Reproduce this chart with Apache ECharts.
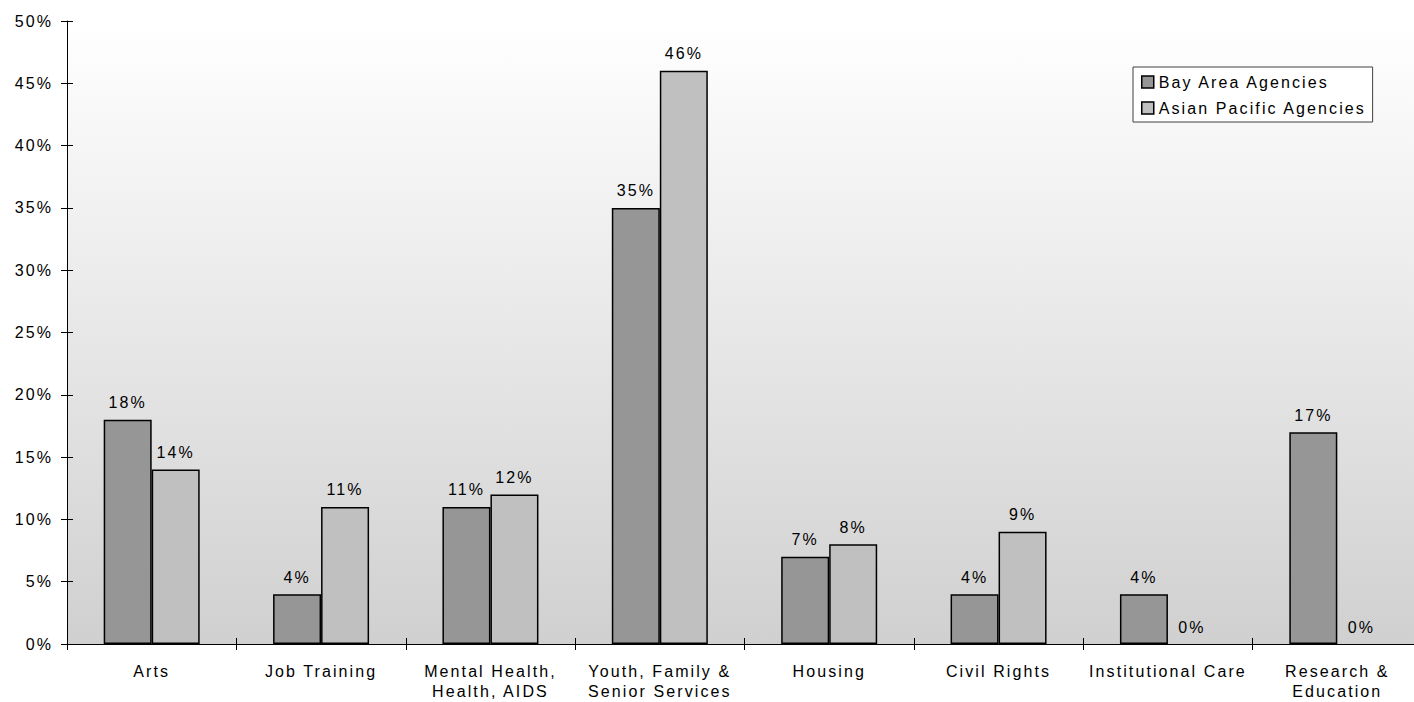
<!DOCTYPE html>
<html>
<head>
<meta charset="utf-8">
<script src="https://cdn.jsdelivr.net/npm/echarts@6/dist/echarts.min.js"></script>
<style>
  html, body { margin: 0; padding: 0; background: #fff; overflow: hidden; }
  /* the plot runs slightly past the right edge of the window */
  #main { width: 1430px; height: 702px; overflow: hidden; }
  #main svg text { letter-spacing: 2.1px; }
</style>
</head>
<body>
<div id="main"></div>
<script>
// Share of agencies by service area
var categories = [
  'Arts',
  'Job Training',
  'Mental Health,\nHealth, AIDS',
  'Youth, Family &\nSenior Services',
  'Housing',
  'Civil Rights',
  'Institutional Care',
  'Research &\nEducation'
];
var seriesNames = ['Bay Area Agencies', 'Asian Pacific Agencies'];
var bayArea = [18, 4, 11, 35, 7, 4, 4, 17];
var asianPacific = [14, 11, 12, 46, 8, 9, 0, 0];

var FONT = 'Liberation Sans, Arial, sans-serif';
var chart = echarts.init(document.getElementById('main'), null, { renderer: 'svg' });

function barSeries(name, values, color) {
  return {
    name: name,
    type: 'bar',
    // empty bars keep their label but draw no outline on the axis
    data: values.map(function (v) {
      return v === 0 ? { value: v, itemStyle: { borderWidth: 0 } } : v;
    }),
    barWidth: 48,
    barGap: '0%',
    itemStyle: { color: color, borderColor: '#000', borderWidth: 1.5 },
    label: {
      show: true,
      position: 'top',
      distance: 9,
      formatter: '{c}%',
      color: '#000',
      fontFamily: FONT,
      fontSize: 16
    }
  };
}

chart.setOption({
  animation: false,
  grid: {
    left: 67, top: 21, width: 1355, height: 623,
    show: true,
    borderWidth: 0,
    backgroundColor: new echarts.graphic.LinearGradient(0, 0, 0, 1, [
      { offset: 0, color: '#ffffff' },
      { offset: 1, color: '#d0d0d0' }
    ])
  },
  legend: {
    data: seriesNames,
    orient: 'vertical',
    left: 1133,
    top: 67,
    padding: [6, 52, 5, 8],
    itemWidth: 12,
    itemHeight: 12,
    itemGap: 8,
    icon: 'rect',
    backgroundColor: '#ffffff',
    borderColor: '#404040',
    borderWidth: 1,
    itemStyle: { borderColor: '#000', borderWidth: 1.5 },
    textStyle: { color: '#000', fontFamily: FONT, fontSize: 16, lineHeight: 18 }
  },
  xAxis: [{
    type: 'category',
    data: categories,
    axisLine: { lineStyle: { color: '#000', width: 1 } },
    axisTick: { show: true, length: 6, lineStyle: { color: '#000' } },
    axisLabel: {
      interval: 0,
      margin: 17,
      color: '#000',
      fontFamily: FONT,
      fontSize: 16,
      lineHeight: 20
    }
  }, {
    type: 'category',
    data: categories,
    position: 'bottom',
    axisLine: { show: false },
    axisTick: { show: true, inside: true, length: 6, lineStyle: { color: '#000' } },
    axisLabel: { show: false }
  }],
  yAxis: [{
    type: 'value',
    min: 0,
    max: 50,
    interval: 5,
    splitLine: { show: false },
    axisLine: { show: true, lineStyle: { color: '#000', width: 1 } },
    axisTick: { show: true, length: 6, lineStyle: { color: '#000' } },
    axisLabel: {
      margin: 14,
      formatter: '{value}%',
      color: '#000',
      fontFamily: FONT,
      fontSize: 16
    }
  }, {
    type: 'value',
    min: 0,
    max: 50,
    interval: 5,
    position: 'left',
    splitLine: { show: false },
    axisLine: { show: false },
    axisTick: { show: true, inside: true, length: 6, lineStyle: { color: '#000' } },
    axisLabel: { show: false }
  }],
  series: [
    barSeries(seriesNames[0], bayArea, '#969696'),
    barSeries(seriesNames[1], asianPacific, '#c0c0c0')
  ]
});
</script>
</body>
</html>
